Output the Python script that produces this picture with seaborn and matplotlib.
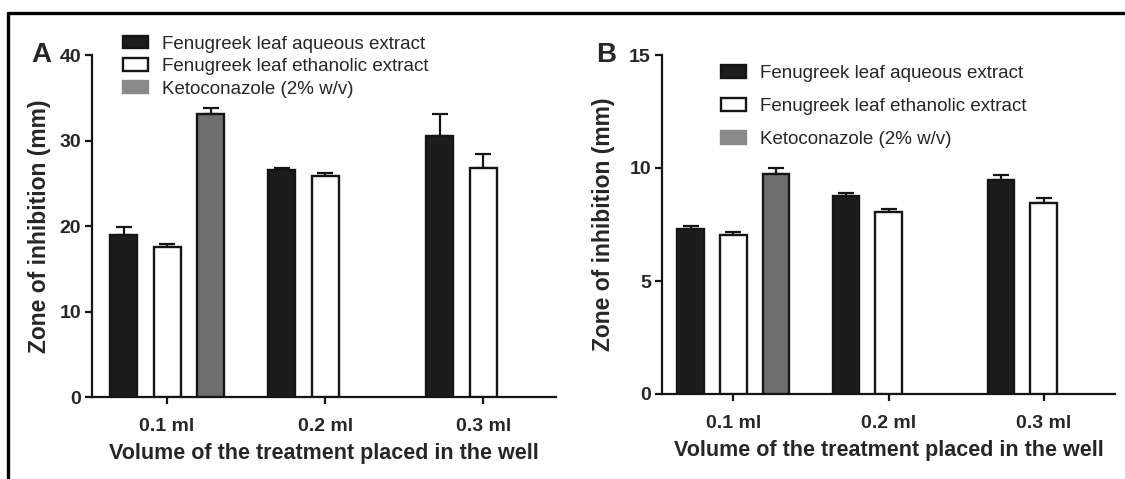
import numpy as np
import pandas as pd
import matplotlib
matplotlib.use("Agg")
import matplotlib.pyplot as plt
from matplotlib.lines import Line2D
from matplotlib.container import BarContainer
import seaborn as sns

sns.set_theme(style="ticks")
plt.rcParams['font.family'] = ['Liberation Sans', 'DejaVu Sans']

# data
volumes = ["0.1 ml", "0.2 ml", "0.3 ml"]
treatments = ["Fenugreek leaf aqueous extract",
              "Fenugreek leaf ethanolic extract",
              "Ketoconazole (2% w/v)"]

# panel A
a_aqueous = [18.9, 26.6, 30.5]
a_aqueous_err = [1.0, 0.2, 2.6]
a_ethanolic = [17.6, 25.9, 26.8]
a_ethanolic_err = [0.3, 0.25, 1.6]
a_keto = [33.1]
a_keto_err = [0.7]

# panel B
b_aqueous = [7.28, 8.75, 9.46]
b_aqueous_err = [0.15, 0.13, 0.25]
b_ethanolic = [7.05, 8.06, 8.46]
b_ethanolic_err = [0.14, 0.13, 0.22]
b_keto = [9.75]
b_keto_err = [0.25]

colors = ["#1c1c1c", "#ffffff", "#6e6e6e"]


def make_df(aq, aq_e, et, et_e, kt, kt_e):
    rows = []
    for vals, errs, t in [(aq, aq_e, treatments[0]), (et, et_e, treatments[1]),
                          (kt, kt_e, treatments[2])]:
        for i, (v, e) in enumerate(zip(vals, errs)):
            rows.append({"volume": volumes[i], "treatment": t, "zone": v, "err": e})
    return pd.DataFrame(rows)


def draw(ax, df, yticks, xlim, letter, letter_x, leg_anchor, leg_spacing, ylab_x):
    sns.barplot(data=df, x="volume", y="zone", hue="treatment",
                order=volumes, hue_order=treatments, palette=colors,
                width=0.825, gap=0.38, edgecolor="#151515", linewidth=1.7,
                errorbar=None, ax=ax, zorder=3)
    # upward-only error bars on each bar
    bar_conts = [c for c in ax.containers if isinstance(c, BarContainer)]
    for s, cont in enumerate(bar_conts):
        for bar in cont:
            xc = bar.get_x() + bar.get_width() / 2
            h = bar.get_height()
            if np.isnan(h):
                continue
            vi = int(round(xc))
            e = df[(df.treatment == treatments[s]) & (df.volume == volumes[vi])]["err"].iloc[0]
            ax.errorbar([xc], [h], yerr=[[0], [e]], fmt="none", ecolor="#151515",
                        elinewidth=1.6, capsize=6, capthick=1.6, zorder=2)
    ax.set_ylim(yticks[0], yticks[-1])
    ax.set_yticks(yticks)
    ax.set_xlim(*xlim)
    sns.despine(ax=ax)
    for sp in ["left", "bottom"]:
        ax.spines[sp].set_linewidth(1.6)
        ax.spines[sp].set_color("#151515")
    ax.tick_params(axis="both", width=1.6, length=5, color="#151515", labelsize=14)
    ax.tick_params(axis="x", pad=10)
    ax.tick_params(axis="y", pad=3)
    for lab in ax.get_xticklabels() + ax.get_yticklabels():
        lab.set_fontweight("bold")
    ax.set_xlabel("Volume of the treatment placed in the well", fontsize=15.5,
                  fontweight="bold", labelpad=6)
    ax.set_ylabel("Zone of inhibition (mm)", fontsize=16.5, fontweight="bold")
    ax.yaxis.set_label_coords(ylab_x, 0.5)

    leg = ax.get_legend()
    handles = list(leg.legend_handles)
    labels = [t.get_text() for t in leg.get_texts()]
    leg.remove()
    handles[2].set_facecolor("#8a8a8a")
    handles[2].set_edgecolor("#8a8a8a")
    ax.legend(handles, labels, loc="upper left", bbox_to_anchor=leg_anchor,
              frameon=False, fontsize=13.5, borderpad=0, borderaxespad=0,
              handlelength=1.35, handleheight=0.65, handletextpad=0.75,
              labelspacing=leg_spacing)
    ax.text(letter_x, 1.0, letter, transform=ax.transAxes, fontsize=20,
            fontweight="bold", ha="left", va="center")


fig = plt.figure(figsize=(11.25, 4.79), dpi=100)
ax_a = fig.add_axes([92 / 1125, 1 - 397 / 479, 464 / 1125, 342 / 479])
ax_b = fig.add_axes([662 / 1125, 1 - 394 / 479, 453 / 1125, 339 / 479])

df_a = make_df(a_aqueous, a_aqueous_err, a_ethanolic, a_ethanolic_err, a_keto, a_keto_err)
df_b = make_df(b_aqueous, b_aqueous_err, b_ethanolic, b_ethanolic_err, b_keto, b_keto_err)

draw(ax_a, df_a, [0, 10, 20, 30, 40], (-0.475, 2.46), "A", -0.13,
     (0.067, 1.057), 0.3, -0.088)
draw(ax_b, df_b, [0, 5, 10, 15], (-0.46, 2.46), "B", -0.145,
     (0.13, 0.97), 0.85, -0.104)

# outer frame (cropped panel border)
fig.add_artist(Line2D([8 / 1125, 1], [1 - 13 / 479] * 2, transform=fig.transFigure,
                      color="black", linewidth=2.4))
fig.add_artist(Line2D([8 / 1125] * 2, [0, 1 - 13 / 479], transform=fig.transFigure,
                      color="black", linewidth=2.4))

fig.savefig("out.png", dpi=100)
